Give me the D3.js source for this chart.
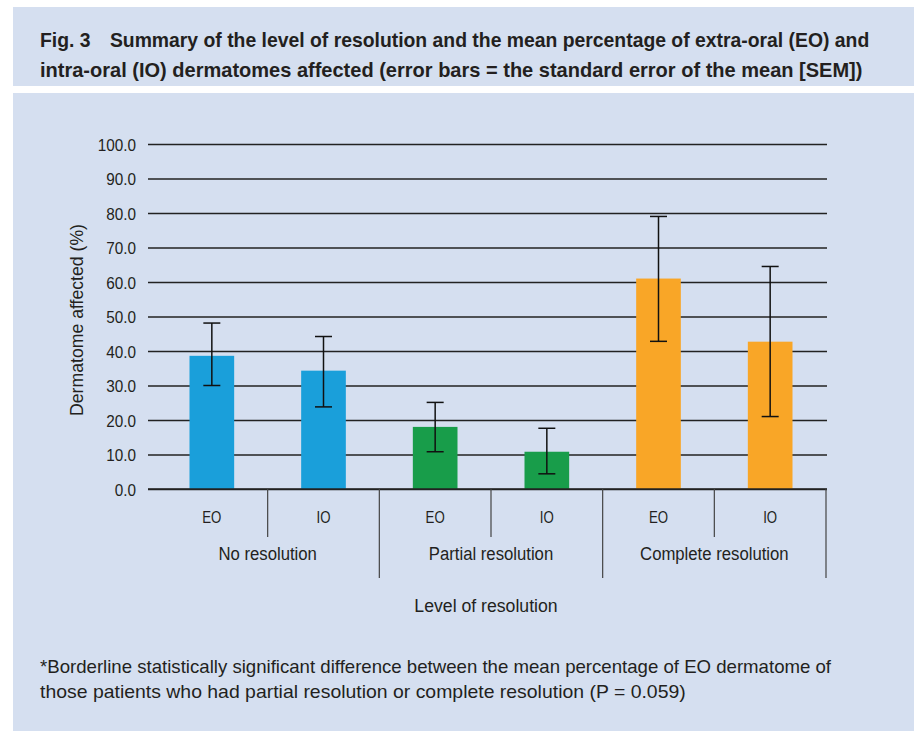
<!DOCTYPE html>
<html>
<head>
<meta charset="utf-8">
<script src="https://cdn.jsdelivr.net/npm/d3@7"></script>
<style>
  body { margin: 0; background: #fff; }
  svg text { font-family: "Liberation Sans", Arial, sans-serif; fill: #231f20; }
</style>
</head>
<body>
<div id="chart"></div>
<script>
// data
var groups = ["No resolution", "Partial resolution", "Complete resolution"];
var sites = ["EO", "IO"];
var means = [38.6, 34.3, 18.0, 10.8, 61.0, 42.7];
var errHigh = [48.1, 44.2, 25.1, 17.6, 79.0, 64.5];
var errLow = [30.0, 23.8, 10.8, 4.4, 42.8, 21.0];
var groupColors = ["#1a9fda", "#189d4a", "#f9a627"];
var yTicks = [0, 10, 20, 30, 40, 50, 60, 70, 80, 90, 100];

var width = 914, height = 731;
var panelColor = "#d5dff0";

var svg = d3.select("#chart").append("svg")
    .attr("width", width)
    .attr("height", height);

svg.append("rect").attr("width", width).attr("height", height).attr("fill", "#fff");
// title panel
svg.append("rect").attr("x", 13).attr("y", 7).attr("width", 901).attr("height", 79).attr("fill", panelColor);
// chart panel
svg.append("rect").attr("x", 13).attr("y", 93).attr("width", 901).attr("height", 638).attr("fill", panelColor);

// text squeezed sideways to look like the condensed face of the original
function condensed(parent, x, y, sx, txt, rot) {
    return parent.append("text")
        .attr("transform", "translate(" + x + "," + y + ")" + (rot ? " rotate(" + rot + ")" : "") + " scale(" + sx + ",1)")
        .text(txt);
}
// same, but squeezed to fill a given width
function fitted(parent, x, y, w, txt) {
    var t = parent.append("text").text(txt);
    var sx = w / t.node().getComputedTextLength();
    t.attr("transform", "translate(" + x + "," + y + ") scale(" + sx + ",1)");
    return t;
}

var title = svg.append("g").attr("font-weight", "bold").attr("font-size", 20);
fitted(title, 40, 47, 830, "Fig. 3\u2003Summary of the level of resolution and the mean percentage of extra-oral (EO) and");
fitted(title, 40, 77, 823, "intra-oral (IO) dermatomes affected (error bars = the standard error of the mean [SEM])");

// scales
var y = d3.scaleLinear().domain([0, 100]).range([489, 144]);
var x = d3.scaleBand().domain(d3.range(means.length)).range([156, 826])
    .paddingInner(0.6).paddingOuter(0.3);
var sepX = d3.scaleLinear().domain([0, means.length]).range([156, 826]);

// gridlines + y labels
var yAxis = d3.axisLeft(y).tickValues(yTicks).tickFormat(d3.format(".1f"))
    .tickSize(-(827 - 148)).tickPadding(12);
var gy = svg.append("g").attr("transform", "translate(148,0)").call(yAxis);
gy.select(".domain").remove();
gy.selectAll(".tick line").attr("stroke", "#222").attr("stroke-width", 1.3);
gy.selectAll(".tick text")
    .attr("font-size", 17)
    .attr("x", null).attr("dy", null)
    .attr("transform", "translate(-12,6) scale(0.9,1)");

// bars
svg.selectAll("rect.bar")
    .data(means)
    .enter().append("rect")
    .attr("class", "bar")
    .attr("x", function (d, i) { return x(i); })
    .attr("y", function (d) { return y(d); })
    .attr("width", x.bandwidth())
    .attr("height", function (d) { return y(0) - y(d); })
    .attr("fill", function (d, i) { return groupColors[Math.floor(i / 2)]; });

// error bars
var eb = svg.append("g").attr("stroke", "#111").attr("stroke-width", 1.5);
var cap = 8.5;
means.forEach(function (d, i) {
    var cx = x(i) + x.bandwidth() / 2;
    eb.append("line").attr("x1", cx).attr("x2", cx).attr("y1", y(errHigh[i])).attr("y2", y(errLow[i]));
    eb.append("line").attr("x1", cx - cap).attr("x2", cx + cap).attr("y1", y(errHigh[i])).attr("y2", y(errHigh[i]));
    eb.append("line").attr("x1", cx - cap).attr("x2", cx + cap).attr("y1", y(errLow[i])).attr("y2", y(errLow[i]));
});

// x axis base line
svg.append("line").attr("x1", 148).attr("x2", 827).attr("y1", y(0)).attr("y2", y(0))
    .attr("stroke", "#222").attr("stroke-width", 1.3);

// category separators
d3.range(1, means.length + 1).forEach(function (k) {
    var inner = k % 2 === 1;
    svg.append("line")
        .attr("x1", sepX(k)).attr("x2", sepX(k))
        .attr("y1", y(0)).attr("y2", inner ? 537 : 578)
        .attr("stroke", "#444").attr("stroke-width", 1.2);
});

// EO / IO labels
var siteG = svg.append("g").attr("font-size", 17).attr("text-anchor", "middle");
means.forEach(function (d, i) {
    condensed(siteG, x(i) + x.bandwidth() / 2, 523, 0.78, sites[i % 2]);
});

// group labels
var groupG = svg.append("g").attr("font-size", 19).attr("text-anchor", "middle");
groups.forEach(function (d, g) {
    condensed(groupG, sepX(2 * g + 1), 560, 0.88, d);
});

// axis titles
var axT = svg.append("g").attr("font-size", 19).attr("text-anchor", "middle");
condensed(axT, 486, 612, 0.93, "Level of resolution");
condensed(axT, 83, 320, 0.93, "Dermatome affected (%)", -90);

// footnote
var note = svg.append("g").attr("font-size", 18);
fitted(note, 40, 673, 792, "*Borderline statistically significant difference between the mean percentage of EO dermatome of");
fitted(note, 40, 698, 646, "those patients who had partial resolution or complete resolution (P = 0.059)");
</script>
</body>
</html>
